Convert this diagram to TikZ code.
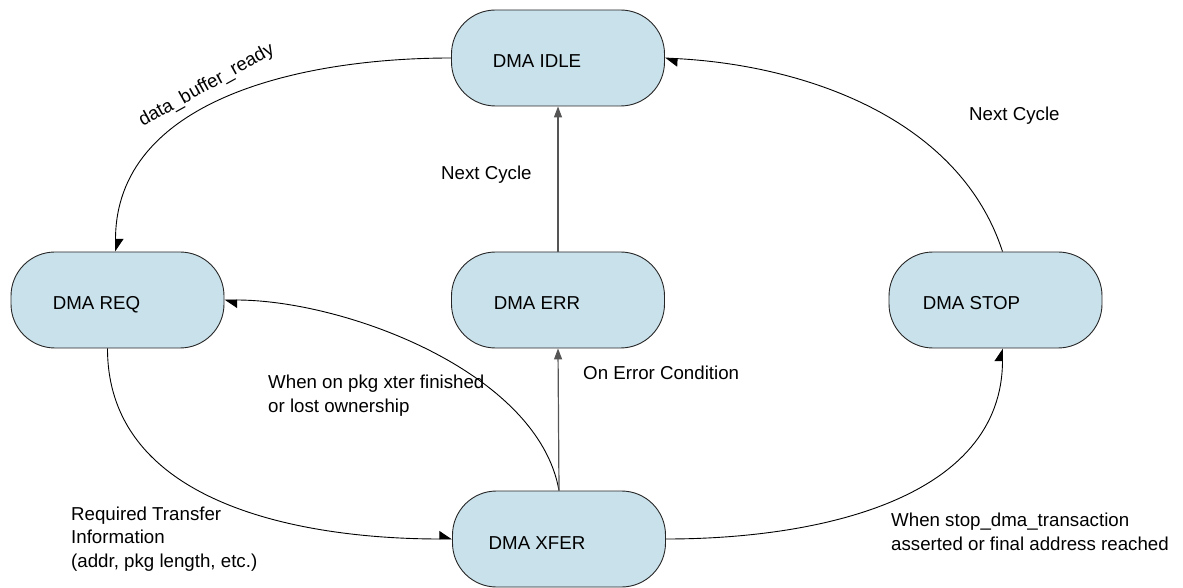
\documentclass[tikz,border=0pt]{standalone}
\usepackage{fontspec}
\setmainfont{Liberation Sans}
\usetikzlibrary{arrows.meta}
\definecolor{stfill}{RGB}{201,225,235}
\definecolor{stline}{RGB}{85,85,85}
\begin{document}
\begin{tikzpicture}[x=1pt,y=1pt,
  state/.style={draw=black!85, fill=stfill, rounded corners=44pt, minimum width=213pt, minimum height=96pt, inner sep=0pt, line width=0.9pt},
  txt/.style={font=\fontsize{18.7}{23.5}\selectfont, inner sep=0pt, align=left},
  curve/.style={draw=black, line width=0.9pt, -{Triangle[harpoon,length=12pt,width=16pt]}},
  straight/.style={draw=stline, line width=1.2pt, -{Triangle[length=11pt,width=8pt]}},
]
\useasboundingbox (0,0) rectangle (1183,587);
\node[state] (idle) at (558,529) {};
\node[state] (req)  at (117.5,287) {};
\node[state] (err)  at (558,287) {};
\node[state] (stop) at (995.5,287) {};
\node[state] (xfer) at (559,48) {};
\node[txt, anchor=base] (idlet) at ([xshift=-21pt,yshift=-10pt]idle.center) {DMA IDLE};
\node[txt, anchor=base] (reqt)  at ([xshift=-21pt,yshift=-10pt]req.center) {DMA REQ};
\node[txt, anchor=base] (errt)  at ([xshift=-21pt,yshift=-10pt]err.center) {DMA ERR};
\node[txt, anchor=base] (stopt) at ([xshift=-24pt,yshift=-10pt]stop.center) {DMA STOP};
\node[txt, anchor=base] (xfert) at ([xshift=-22pt,yshift=-10pt]xfer.center) {DMA XFER};

\draw[curve] (idle.west) to[out=180,in=90] ([xshift=-2pt]req.north);
\draw[curve] ([xshift=7pt]stop.north) to[out=108,in=-3,looseness=0.92] (idle.east);
\draw[curve] (xfer.north) to[out=100,in=0,looseness=0.8] (req.east);
\draw[curve] ([xshift=-10pt]req.south) to[out=-90,in=180] (xfer.west);
\draw[curve] (xfer.east) to[out=0,in=-90] ([xshift=7pt]stop.south);
\draw[straight] (xfer.north) -- (err.south);
\draw[straight] (err.north) -- (idle.south);

\node[txt, anchor=base, rotate=29] (l1) at (209,497) {data\_buffer\_ready};
\node[txt, anchor=base west] (l2) at (441,407) {Next Cycle};
\node[txt, anchor=base west] (l3) at (969,466) {Next Cycle};
\node[txt, anchor=base west] (l4) at (583,208) {On Error Condition};
\node[txt, anchor=base west] (l5) at (268,175) {When on pkg xter finished\\or lost ownership};
\node[txt, anchor=base west] (l6) at (71,20) {Required Transfer\\Information\\(addr, pkg length, etc.)};
\node[txt, anchor=base west] (l7) at (891,37) {When stop\_dma\_transaction\\asserted or final address reached};
\end{tikzpicture}
\end{document}
